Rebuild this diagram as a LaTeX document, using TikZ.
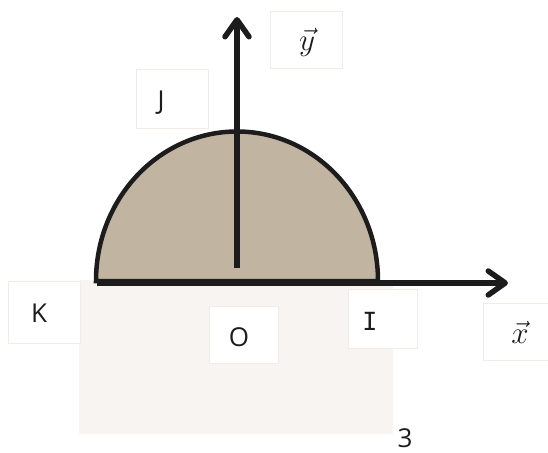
\documentclass[tikz,border=0pt]{standalone}
\usepackage{fontspec}
\setsansfont{Open Sans}
\newfontfamily\slabfont{DejaVu Sans Mono}
\usetikzlibrary{arrows.meta}
\definecolor{cInk}{HTML}{1C1C1C}
\definecolor{cSand}{HTML}{C1B5A2}
\definecolor{cPaper}{HTML}{F7F4F1}
\definecolor{cEdge}{HTML}{F1ECE7}
\tikzset{
    lbl/.style  ={draw=cEdge, line width=1pt, fill=white, inner sep=0pt},
    txt/.style  ={font=\sffamily\fontsize{26}{29}\selectfont, inner sep=0pt, text=cInk},
    vlab/.style ={font=\fontsize{24.88}{30}\selectfont, inner sep=0pt, text=cInk},
    axis/.style ={line width=5.5pt, cInk,
                  -{Straight Barb[length=17pt, width=24pt, line cap=round, line join=round]}},
    dome/.style ={draw=cInk, line width=4.5pt, fill=cSand},
}
\newcommand{\bigvec}[1]{\scalebox{1.25}{$\vec{#1}$}}

\begin{document}
\begin{tikzpicture}[x=1pt, y=-1pt]
\useasboundingbox (0,0) rectangle (548,452);

% ===================== fond sous l'axe =====================
\node[fill=cPaper, rounded corners=2pt, minimum width=314pt, minimum height=154pt,
      inner sep=0pt] (base) at (236,357) {};

% ===================== demi-disque =====================
\draw[dome] (96,281) arc[start angle=180, end angle=360, x radius=141, y radius=149.5] -- cycle;

% ===================== axes =====================
\coordinate (xs) at (97,283);
\coordinate (xe) at (508,283);
\coordinate (ys) at (237,268);
\coordinate (ye) at (237,17);
\draw[axis] (xs) -- (xe);
\draw[axis] (ys) -- (ye);

% ===================== etiquettes =====================
\node[lbl, minimum width=72pt, minimum height=62pt] (boxK) at (44,312) {};
\node[txt] (K) at (39,313) {K};
\node[lbl, minimum width=69pt, minimum height=57pt] (boxO) at (243.5,334.5) {};
\node[txt] (O) at (239,337) {O};
\node[lbl, minimum width=69pt, minimum height=59pt] (boxI) at (382.5,318.5) {};
\node[txt, font=\slabfont\fontsize{25}{28}\selectfont] (I) at (370,321) {I};
\node[lbl, minimum width=72pt, minimum height=57pt] (boxX) at (519,331.5) {};
\node[vlab] (vx) at (520,332) {\bigvec{x}};
\node[lbl, minimum width=72pt, minimum height=59pt] (boxJ) at (172,98.5) {};
\node[txt] (J) at (161,103) {J};
\node[lbl, minimum width=72pt, minimum height=56pt] (boxY) at (306,40) {};
\node[vlab] (vy) at (307,42) {\bigvec{y}};
\node[txt, anchor=north] (trois) at (405,428) {3};

\end{tikzpicture}
\end{document}
